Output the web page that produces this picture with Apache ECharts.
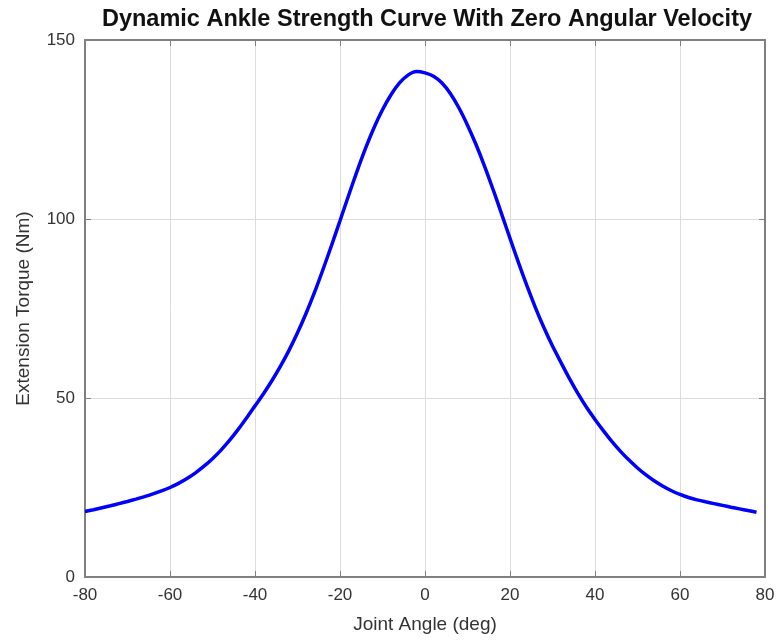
<!DOCTYPE html>
<html><head><meta charset="utf-8">
<script src="https://cdn.jsdelivr.net/npm/echarts@6/dist/echarts.min.js"></script>
<style>html,body{margin:0;padding:0;background:#fff}#c{width:778px;height:643px}</style>
</head><body><div id="c"></div>
<script>
var angles = [-80,-78,-76,-74,-72,-70,-68,-66,-64,-62,-60,-58,-56,-54,-52,-50,-48,-46,-44,-42,-40,-38,-36,-34,-32,-30,-28,-26,-24,-22,-20,-18,-16,-14,-12,-10,-8,-6,-4,-2,0,2,4,6,8,10,12,14,16,18,20,22,24,26,28,30,32,34,36,38,40,42,44,46,48,50,52,54,56,58,60,62,64,66,68,70,72,74,76,78];
var torque = [18.3,18.8,19.35,19.9,20.5,21.1,21.75,22.45,23.2,24.05,25.0,26.15,27.5,29.1,30.95,33.05,35.45,38.15,41.15,44.4,47.8,51.2,54.9,58.9,63.3,68.2,73.6,79.5,85.9,92.6,99.5,106.5,113.3,119.7,125.5,130.5,134.7,138.0,140.2,141.2,140.8,139.9,138.0,135.0,131.0,126.2,120.8,114.8,108.3,101.5,94.6,87.8,81.3,75.2,69.6,64.5,59.9,55.4,51.2,47.4,44.0,40.8,37.8,35.1,32.65,30.45,28.5,26.8,25.35,24.1,23.05,22.2,21.55,21.0,20.5,20.0,19.5,19.03,18.56,18.1];
var xTicks = [-80,-60,-40,-20,0,20,40,60,80];
var yTicks = [0,50,100,150];

var font = "'Liberation Sans', Arial, sans-serif";
var chart = echarts.init(document.getElementById('c'));
var axisLine = {show:true, onZero:false, lineStyle:{color:'#808080', width:2}};
var tick = {show:true, inside:true, length:6, lineStyle:{color:'#808080'}};
var data = angles.map(function(a,i){return [a, torque[i]];});
chart.setOption({
  animation:false,
  title:{text:'Dynamic Ankle Strength Curve With Zero Angular Velocity', left:422, top:3, textAlign:'center',
    textStyle:{fontFamily:font, fontSize:23.5, fontWeight:'bold', color:'#111'}},
  grid:{left:85, right:13, top:40, bottom:66},
  xAxis:[{type:'value', min:xTicks[0], max:xTicks[xTicks.length-1], interval:20, position:'bottom',
    name:'Joint Angle (deg)', nameLocation:'middle', nameGap:38,
    nameTextStyle:{fontFamily:font, fontSize:19, color:'#333'},
    axisLine:axisLine, axisTick:tick,
    axisLabel:{fontFamily:font, fontSize:17, color:'#333', margin:10},
    splitLine:{show:true, lineStyle:{color:'#dcdcdc', width:1}}},
   {type:'value', min:-80, max:80, interval:20, position:'top',
    axisLine:axisLine, axisTick:tick,
    axisLabel:{show:false}, splitLine:{show:false}}],
  yAxis:[{type:'value', min:yTicks[0], max:yTicks[yTicks.length-1], interval:50, position:'left',
    name:'Extension Torque (Nm)', nameLocation:'middle', nameGap:52,
    nameTextStyle:{fontFamily:font, fontSize:19, color:'#333'},
    axisLine:axisLine, axisTick:tick,
    axisLabel:{fontFamily:font, fontSize:17, color:'#333', margin:10},
    splitLine:{show:true, lineStyle:{color:'#dcdcdc', width:1}}},
   {type:'value', min:0, max:150, interval:50, position:'right',
    axisLine:axisLine, axisTick:tick,
    axisLabel:{show:false}, splitLine:{show:false}}],
  series:[{type:'line', data:data, smooth:0.25, showSymbol:false,
    lineStyle:{color:'#0000ff', width:3.5}, xAxisIndex:0, yAxisIndex:0}]
});
</script></body></html>
